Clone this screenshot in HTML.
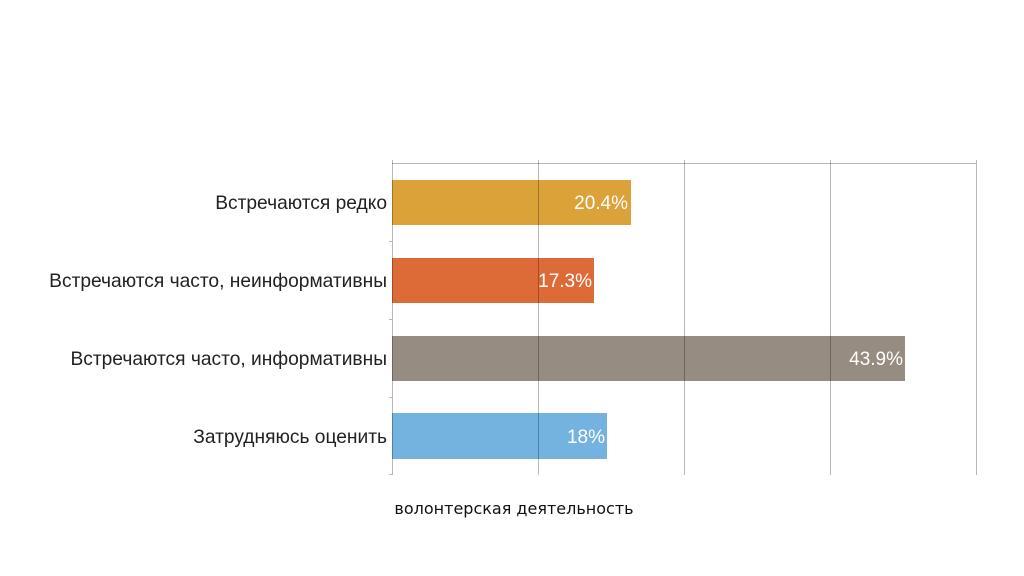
<!DOCTYPE html>
<html><head><meta charset="utf-8"><style>html,body{margin:0;padding:0;background:#fff;width:1024px;height:576px;overflow:hidden}</style></head><body>
<svg width="1024" height="576" xmlns="http://www.w3.org/2000/svg" font-family="Liberation Sans, DejaVu Sans, sans-serif">
<rect x="392" y="180" width="239" height="45" fill="#dba239"/>
<rect x="392" y="258" width="202" height="45" fill="#dd6b37"/>
<rect x="392" y="336" width="513" height="45" fill="#968c82"/>
<rect x="392" y="413" width="215" height="46" fill="#74b2e0"/>
<g stroke="#000" stroke-opacity="0.28" stroke-width="1">
<line x1="392" y1="163.5" x2="976" y2="163.5"/>
<line x1="392.5" y1="160" x2="392.5" y2="475"/>
<line x1="538.5" y1="160" x2="538.5" y2="475"/>
<line x1="684.5" y1="160" x2="684.5" y2="475"/>
<line x1="830.5" y1="160" x2="830.5" y2="475"/>
<line x1="976.5" y1="160" x2="976.5" y2="475"/>
<line x1="389" y1="241.5" x2="392" y2="241.5"/>
<line x1="389" y1="319.5" x2="392" y2="319.5"/>
<line x1="389" y1="397.5" x2="392" y2="397.5"/>
<line x1="389" y1="474.5" x2="392" y2="474.5"/>
</g>
<g font-size="19.2" fill="#222" text-anchor="end">
<text x="387" y="209">Встречаются редко</text>
<text x="387" y="287">Встречаются часто, неинформативны</text>
<text x="387" y="365">Встречаются часто, информативны</text>
<text x="387" y="443">Затрудняюсь оценить</text>
</g>
<g font-size="19" fill="#fff" text-anchor="end">
<text x="628" y="209">20.4%</text>
<text x="592" y="287">17.3%</text>
<text x="903" y="365">43.9%</text>
<text x="605" y="443">18%</text>
</g>
<text x="514" y="514" font-size="16" fill="#111" text-anchor="middle" font-family="DejaVu Sans, sans-serif">волонтерская деятельность</text>
</svg>
</body></html>
